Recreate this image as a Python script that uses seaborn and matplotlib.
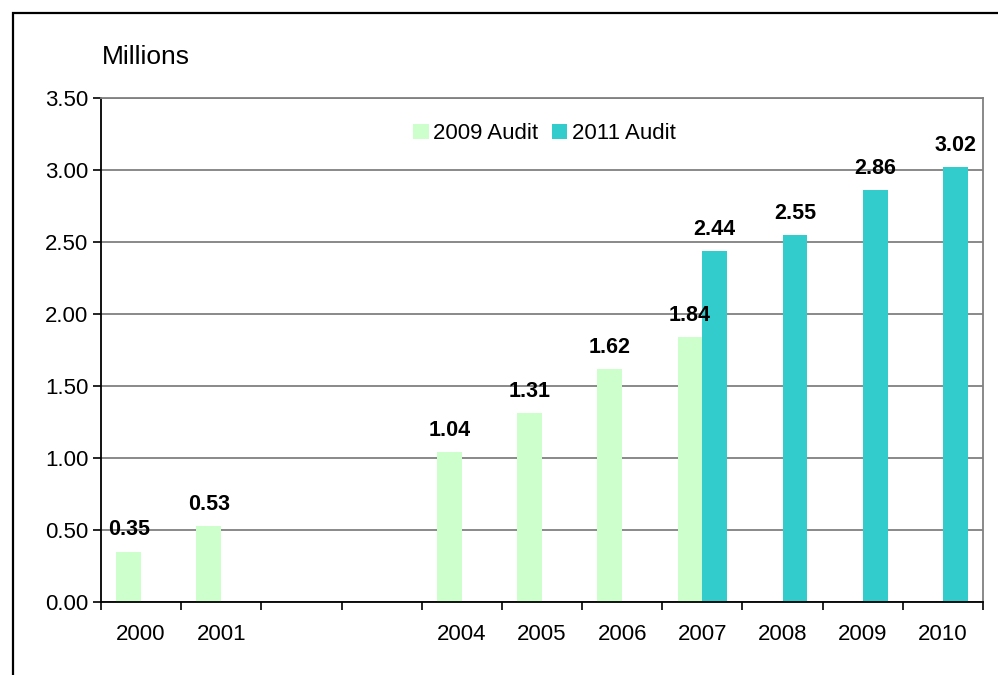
import matplotlib
matplotlib.use("Agg")
import matplotlib.pyplot as plt
from matplotlib.patches import Rectangle
from matplotlib.ticker import FixedLocator
import seaborn as sns
import pandas as pd

# Category slots (2002 and 2003 have no data but keep their place on the axis)
years = ["2000", "2001", "2002", "2003", "2004", "2005", "2006", "2007", "2008", "2009", "2010"]
tick_labels = ["2000", "2001", "", "", "2004", "2005", "2006", "2007", "2008", "2009", "2010"]

audit_2009_years = ["2000", "2001", "2004", "2005", "2006", "2007"]
audit_2009_values = [0.35, 0.53, 1.04, 1.31, 1.62, 1.84]

audit_2011_years = ["2007", "2008", "2009", "2010"]
audit_2011_values = [2.44, 2.55, 2.86, 3.02]

series_names = ["2009 Audit", "2011 Audit"]
colors = ["#CCFFCC", "#33CCCC"]

df = pd.concat([
    pd.DataFrame({"year": audit_2009_years, "value": audit_2009_values, "audit": series_names[0]}),
    pd.DataFrame({"year": audit_2011_years, "value": audit_2011_values, "audit": series_names[1]}),
], ignore_index=True)

sns.set_theme(style="white")
plt.rcParams["font.family"] = ["Liberation Sans", "DejaVu Sans"]
plt.rcParams["text.color"] = "black"
plt.rcParams["xtick.color"] = "black"
plt.rcParams["ytick.color"] = "black"

fig = plt.figure(figsize=(9.98, 6.75), dpi=100)
ax = fig.add_axes([101 / 998, 1 - 602 / 675, (983 - 101) / 998, (602 - 98) / 675])

# horizontal gridlines under the bars
ax.set_axisbelow(True)
ax.yaxis.grid(True, color="#808080", linewidth=1.3)

sns.barplot(data=df, x="year", y="value", hue="audit", order=years,
            hue_order=series_names, palette=colors, width=0.62,
            saturation=1, dodge=True, ax=ax, legend=True, linewidth=0)

for cont in ax.containers:
    ax.bar_label(cont, fmt="%.2f", padding=8, fontsize=15.5, fontweight="bold",
                 color="black")

ax.set_ylim(0, 3.5)
ax.set_xlim(-0.5, len(years) - 0.5)
yt = [0, 0.5, 1.0, 1.5, 2.0, 2.5, 3.0, 3.5]
ax.set_yticks(yt)
ax.set_yticklabels([f"{v:.2f}" for v in yt], fontsize=16)
ax.set_xticks(range(len(years)))
ax.set_xticklabels(tick_labels, fontsize=16)
ax.xaxis.set_minor_locator(FixedLocator([i - 0.5 for i in range(len(years) + 1)]))
ax.tick_params(axis="x", which="major", length=0, pad=16, colors="black")
ax.tick_params(axis="x", which="minor", length=6, width=1.2, color="black", direction="out", bottom=True)
ax.tick_params(axis="y", which="major", length=6, width=1.2, color="black", direction="out", left=True, pad=3)
ax.set_xlabel("")
ax.set_ylabel("")

for side in ["left", "bottom"]:
    ax.spines[side].set_color("black")
    ax.spines[side].set_linewidth(1.3)
for side in ["top", "right"]:
    ax.spines[side].set_color("#808080")
    ax.spines[side].set_linewidth(1.3)
    ax.spines[side].set_visible(True)

leg = ax.legend(loc="upper center", bbox_to_anchor=(0.503, 0.972), ncol=2, frameon=False,
                fontsize=16, handlelength=0.7, handleheight=0.7, handletextpad=0.2,
                columnspacing=0.6, borderpad=0)

fig.text(102 / 998, 1 - 57 / 675, "Millions", fontsize=19, va="center", ha="left")

# outer frame of the figure panel
fig.patches.append(Rectangle((13 / 998, -0.05), 1.1, 1 - 13 / 675 + 0.05,
                             transform=fig.transFigure, fill=False,
                             edgecolor="black", linewidth=1.6, zorder=0))

fig.savefig("out.png", dpi=100)
